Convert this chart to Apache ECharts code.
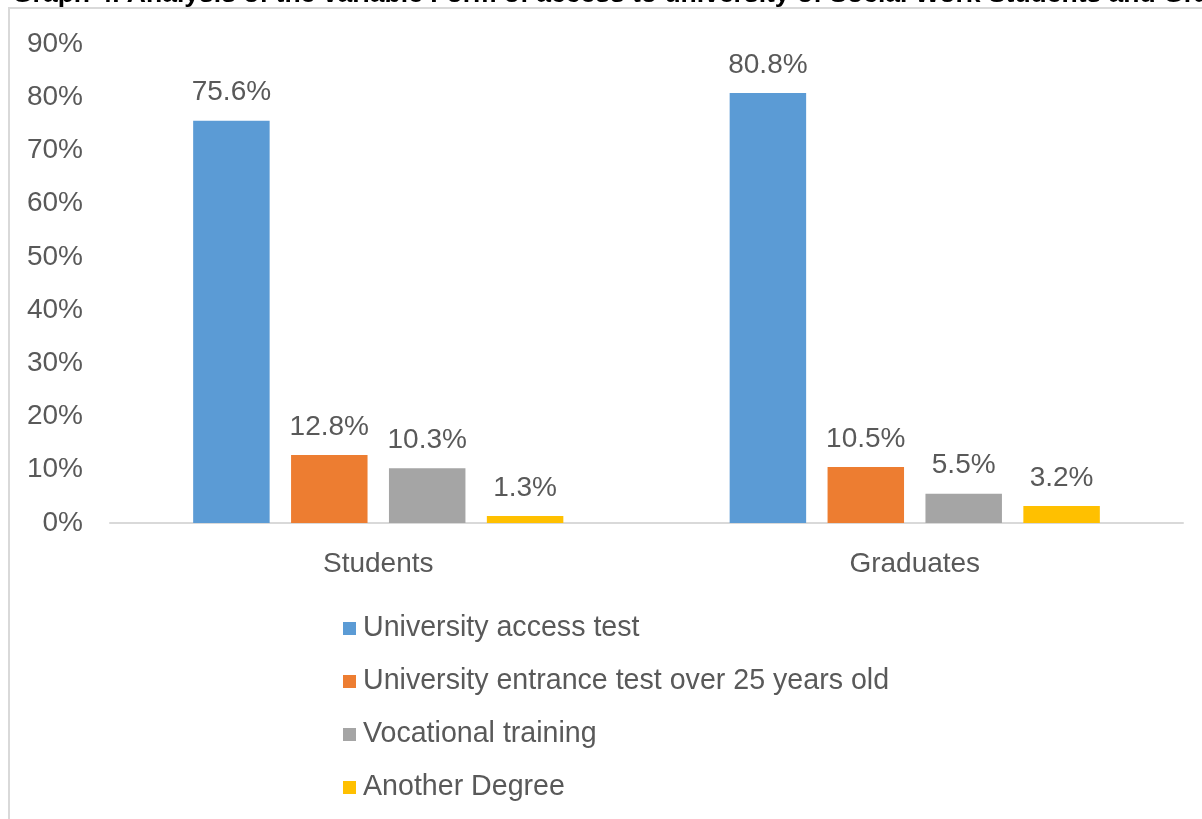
<!DOCTYPE html>
<html>
<head>
<meta charset="utf-8">
<title>Form of access to university</title>
<script src="https://cdn.jsdelivr.net/npm/echarts@6/dist/echarts.min.js"></script>
<style>
  html, body { margin: 0; padding: 0; background: #fff; }
  #chart { width: 1202px; height: 819px; }
</style>
</head>
<body>
<div id="chart"></div>
<script>
// values (percent)
const groups = ['Students', 'Graduates']
const seriesNames = [
  'University access test',
  'University entrance test over 25 years old',
  'Vocational training',
  'Another Degree'
]
const accessTest = [75.6, 80.8]
const over25Test = [12.8, 10.5]
const vocational = [10.3, 5.5]
const anotherDegree = [1.3, 3.2]
const colors = ['#5b9bd5', '#ed7d31', '#a5a5a5', '#ffc000']

const font = '"Liberation Sans", Arial, sans-serif'
const txt = '#595959'

const chart = echarts.init(document.getElementById('chart'))

function bar(name, data, color) {
  return {
    name: name,
    type: 'bar',
    data: data,
    barGap: '28%',
    barCategoryGap: '31%',
    itemStyle: { color: color },
    label: {
      show: true,
      position: 'top',
      distance: 14,
      formatter: p => p.value.toFixed(1) + '%',
      color: txt,
      fontFamily: font,
      fontSize: 28
    }
  }
}

const option = {
  animation: false,
  // the title is cut off at the top edge in the source picture
  title: {
    text: 'Graph 4. Analysis of the variable Form of access to university of Social Work Students and Graduates',
    left: 12,
    top: -19,
    padding: 0,
    textStyle: { fontFamily: font, fontSize: 26.5, fontWeight: 'bold', color: '#000' }
  },
  graphic: [{
    type: 'rect',
    shape: { x: 9, y: 8, width: 1400, height: 1000 },
    style: { fill: 'none', stroke: '#d9d9d9', lineWidth: 2 },
    silent: true
  }],
  grid: { left: 110, right: 19, top: 44, bottom: 296 },
  legend: {
    orient: 'vertical',
    left: 338,
    top: 609,
    itemWidth: 13,
    itemHeight: 13,
    itemGap: 24,
    icon: 'rect',
    data: seriesNames,
    textStyle: { color: txt, fontFamily: font, fontSize: 28.6, lineHeight: 28, padding: [0, 0, 0, 2] }
  },
  xAxis: {
    type: 'category',
    data: groups,
    axisLine: { lineStyle: { color: '#d9d9d9', width: 2 } },
    axisTick: { show: false },
    axisLabel: { color: txt, fontFamily: font, fontSize: 28, margin: 27 }
  },
  yAxis: {
    type: 'value',
    min: 0,
    max: 90,
    interval: 10,
    splitLine: { show: false },
    axisLine: { show: false },
    axisTick: { show: false },
    axisLabel: { color: txt, fontFamily: font, fontSize: 28, margin: 27, formatter: '{value}%' }
  },
  series: [
    bar(seriesNames[0], accessTest, colors[0]),
    bar(seriesNames[1], over25Test, colors[1]),
    bar(seriesNames[2], vocational, colors[2]),
    bar(seriesNames[3], anotherDegree, colors[3])
  ]
}

chart.setOption(option)
</script>
</body>
</html>
